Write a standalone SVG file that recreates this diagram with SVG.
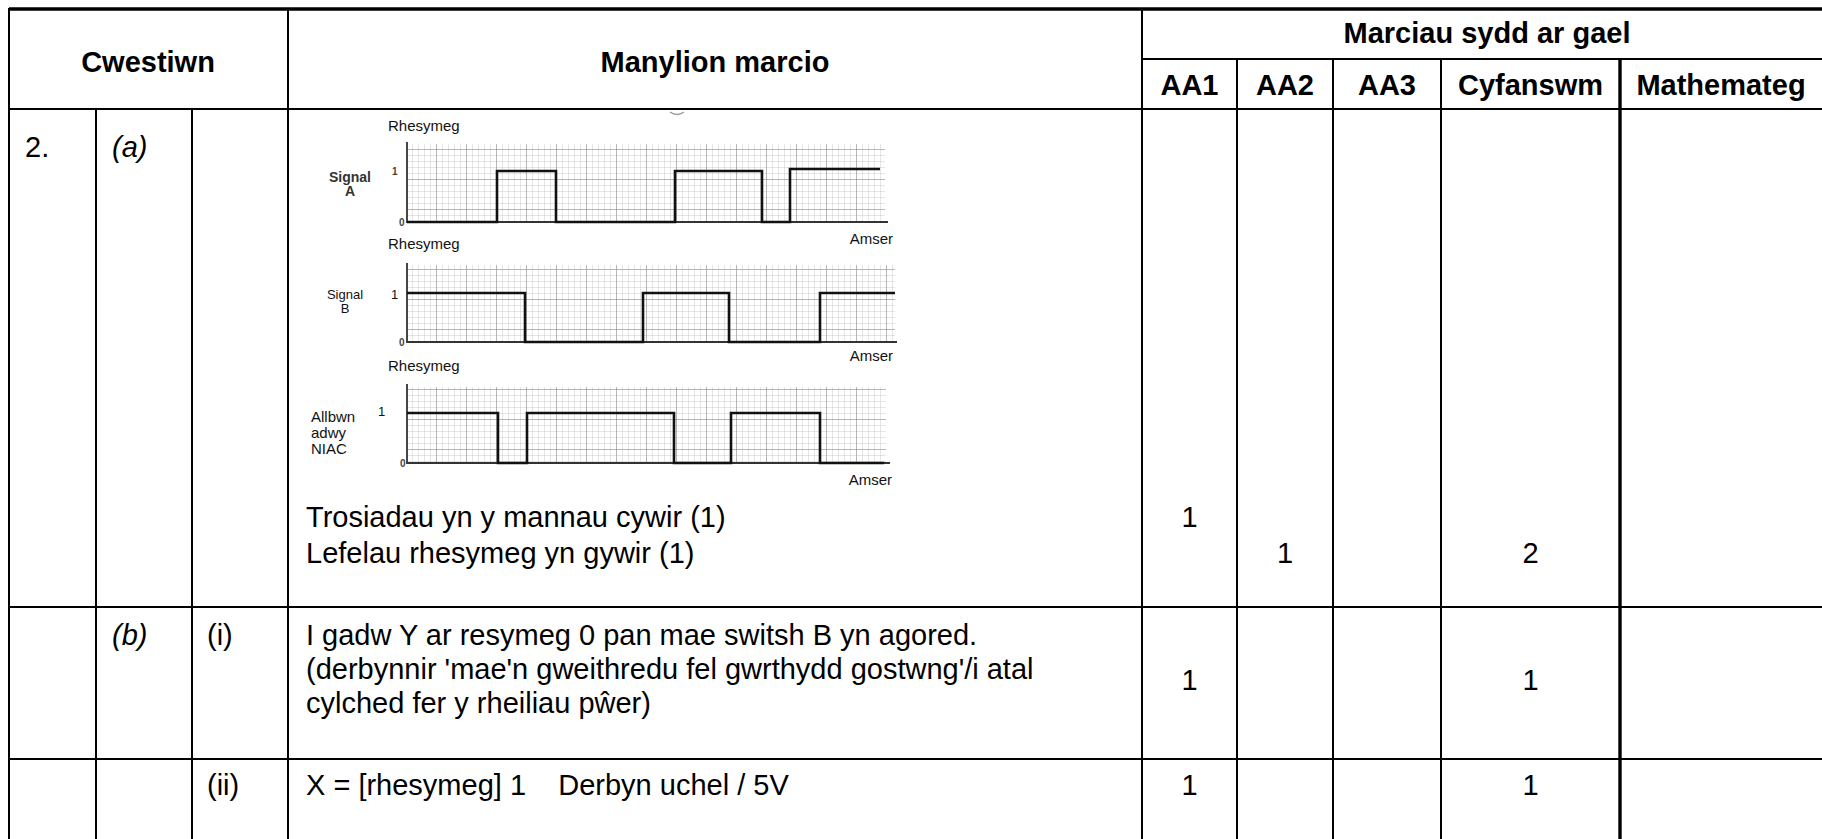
<svg xmlns="http://www.w3.org/2000/svg" width="1822" height="839" viewBox="0 0 1822 839">
<defs>
<style>
.hd{font-family:"Liberation Sans",Arial,sans-serif;font-weight:bold;font-size:29px;fill:#000;text-anchor:middle}
.tx{font-family:"Liberation Sans",Arial,sans-serif;font-size:29px;fill:#000}
.it{font-style:italic}
.mk{text-anchor:middle}
.ln{stroke:#000;stroke-width:2;fill:none}
.thick{stroke:#000;stroke-width:3.4;fill:none}
.sm{font-family:"Liberation Sans",Arial,sans-serif;font-size:15px;fill:#111}
.smb{font-family:"Liberation Sans",Arial,sans-serif;font-size:14px;font-weight:bold;fill:#333}
.tiny{font-family:"Liberation Sans",Arial,sans-serif;font-size:10px;font-weight:bold;fill:#444}
.wave{stroke:#111;stroke-width:2.6;fill:none}
.axis{stroke:#333;stroke-width:1.8;fill:none}
</style>
<pattern id="minor" x="407" y="0" width="6" height="6" patternUnits="userSpaceOnUse">
<path d="M6 0V6M0 6H6" stroke="#b6b6b6" stroke-width="0.7" fill="none"/>
</pattern>
<pattern id="major" x="407" y="0" width="30" height="30" patternUnits="userSpaceOnUse">
<path d="M30 0V30M0 30H30" stroke="#7c7c7c" stroke-width="0.9" fill="none"/>
</pattern>
</defs>
<rect width="1822" height="839" fill="#fff"/>

<g id="table-lines">
<path class="thick" d="M9 9H1822"/>
<path class="ln" d="M1142 59H1822M9 109H1822M9 607H1822M9 759H1822"/>
<path class="ln" d="M9 8V839M288 8V839M1142 8V839M96 109V839M192 109V839M1237 59V839M1333 59V839M1441 59V839"/>
<path class="thick" d="M1620 59V839"/>
</g>

<g id="header">
<text class="hd" x="148" y="72">Cwestiwn</text>
<text class="hd" x="715" y="72">Manylion marcio</text>
<text class="hd" x="1487" y="43">Marciau sydd ar gael</text>
<text class="hd" x="1189.5" y="95">AA1</text>
<text class="hd" x="1285" y="95">AA2</text>
<text class="hd" x="1387" y="95">AA3</text>
<text class="hd" x="1530.5" y="95">Cyfanswm</text>
<text class="hd" x="1721" y="95">Mathemateg</text>
</g>

<g id="row-2a">
<text class="tx" x="25" y="157">2.</text>
<text class="tx it" x="112" y="157">(a)</text>
<text class="tx" x="306" y="527">Trosiadau yn y mannau cywir (1)</text>
<text class="tx" x="306" y="563">Lefelau rhesymeg yn gywir (1)</text>
<text class="tx mk" x="1189.5" y="527">1</text>
<text class="tx mk" x="1285" y="563">1</text>
<text class="tx mk" x="1530.5" y="563">2</text>
</g>

<g id="timing-diagram">
<path d="M670 112q7 5 14 0" stroke="#999" stroke-width="1.5" fill="none"/>
<g id="signal-a">
<text class="sm" x="388" y="131">Rhesymeg</text>
<rect x="407" y="144" width="478" height="78" fill="url(#minor)"/>
<rect x="407" y="144" width="478" height="78" fill="url(#major)"/>
<path class="axis" d="M407 142V222H888"/>
<text class="smb" x="350" y="182" text-anchor="middle">Signal</text>
<text class="smb" x="350" y="196" text-anchor="middle">A</text>
<text class="tiny" x="392" y="175">1</text>
<text class="tiny" x="399" y="226">0</text>
<path class="wave" d="M407 222H497V171H556V222H675V171H762V222H790V169H880"/>
<text class="sm" x="893" y="244" text-anchor="end">Amser</text>
</g>
<g id="signal-b">
<text class="sm" x="388" y="249">Rhesymeg</text>
<rect x="407" y="265" width="488" height="77" fill="url(#minor)"/>
<rect x="407" y="265" width="488" height="77" fill="url(#major)"/>
<path class="axis" d="M407 263V342H897"/>
<text class="sm" x="345" y="299" text-anchor="middle" style="font-size:13px">Signal</text>
<text class="sm" x="345" y="313" text-anchor="middle" style="font-size:13px">B</text>
<text class="sm" x="391" y="299" style="font-size:13px">1</text>
<text class="tiny" x="399" y="346">0</text>
<path class="wave" d="M407 293H525V342H643V293H729V342H820V293H895"/>
<text class="sm" x="893" y="361" text-anchor="end">Amser</text>
</g>
<g id="output-niac">
<text class="sm" x="388" y="371">Rhesymeg</text>
<rect x="407" y="387" width="479" height="76" fill="url(#minor)"/>
<rect x="407" y="387" width="479" height="76" fill="url(#major)"/>
<path class="axis" d="M407 384V463H890"/>
<text class="sm" x="311" y="422">Allbwn</text>
<text class="sm" x="311" y="438">adwy</text>
<text class="sm" x="311" y="454">NIAC</text>
<text class="sm" x="378" y="416" style="font-size:13px">1</text>
<text class="tiny" x="400" y="467">0</text>
<path class="wave" d="M407 413H498V463H527V413H674V463H731V413H820V463H884"/>
<text class="sm" x="892" y="485" text-anchor="end">Amser</text>
</g>
</g>

<g id="row-2b-i">
<text class="tx it" x="112" y="645">(b)</text>
<text class="tx" x="207" y="645">(i)</text>
<text class="tx" x="306" y="645">I gadw Y ar resymeg 0 pan mae switsh B yn agored.</text>
<text class="tx" x="306" y="679">(derbynnir 'mae'n gweithredu fel gwrthydd gostwng'/i atal</text>
<text class="tx" x="306" y="713">cylched fer y rheiliau pŵer)</text>
<text class="tx mk" x="1189.5" y="690">1</text>
<text class="tx mk" x="1530.5" y="690">1</text>
</g>

<g id="row-2b-ii">
<text class="tx" x="207" y="795">(ii)</text>
<text class="tx" x="306" y="795" xml:space="preserve">X = [rhesymeg] 1    Derbyn uchel / 5V</text>
<text class="tx mk" x="1189.5" y="795">1</text>
<text class="tx mk" x="1530.5" y="795">1</text>
</g>
</svg>
